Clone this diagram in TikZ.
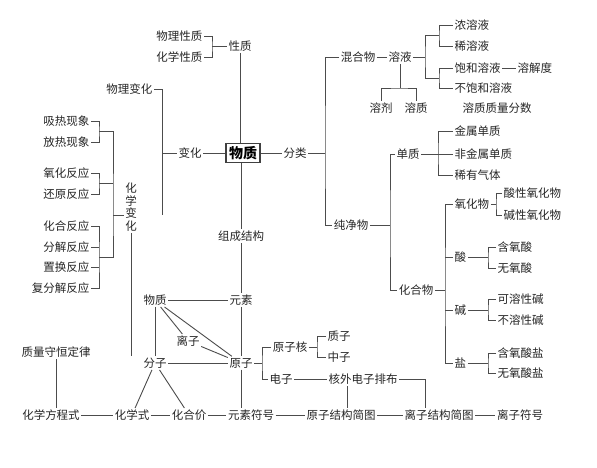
\documentclass[tikz,border=0pt]{standalone}
\usepackage{fontspec}
\setmainfont{Noto Sans CJK SC}
\usetikzlibrary{positioning, calc}
\tikzstyle{term} = [inner sep=1.5pt, font=\fontsize{11.5}{12.6}\selectfont, text=black!85]
\tikzstyle{root} = [draw=black!75, line width=1.2pt, inner sep=3pt, font=\fontsize{14}{16}\selectfont\bfseries]
\tikzstyle{line} = [draw=black!70, line width=0.9pt]

\begin{document}
\begin{tikzpicture}[x=1pt, y=-1pt]
    \useasboundingbox[fill=white] (0,0) rectangle (597,467);

    % centre and properties
    \node (matter) [root] at (243,153) {物质};
    \node (physprop) [term, anchor=east] at (204,36) {物理性质};
    \node (chemprop) [term, anchor=east] at (204,57) {化学性质};
    \node (prop) [term] at (240,46) {性质};
    \node (change) [term] at (190,153) {变化};
    \node (classify) [term] at (295,153) {分类};
    \node (struct) [term] at (241,236) {组成结构};

    \coordinate (jprop) at (212,46);
    \draw [line] (physprop.east) -| (jprop) |- (chemprop.east);
    \draw [line] (jprop) -- (prop.west);
    \draw [line] (prop.south) -- (prop.south |- matter.north);
    \draw [line] (struct.north |- matter.south) -- (struct.north);
    \draw [line] (change.east) -- (matter.west);
    \draw [line] (matter.east) -- (classify.west);

    % changes
    \node (physchange) [term, anchor=east] at (154,89) {物理变化};
    \node (chemchange) [term, align=center] at (131,207) {化\\学\\变\\化};
    \node (absorb) [term, anchor=east] at (91,121) {吸热现象};
    \node (release) [term, anchor=east] at (91,142) {放热现象};
    \node (oxid) [term, anchor=east] at (91,173) {氧化反应};
    \node (reduc) [term, anchor=east] at (91,194) {还原反应};
    \node (combine) [term, anchor=east] at (91,226) {化合反应};
    \node (decomp) [term, anchor=east] at (91,247) {分解反应};
    \node (replace) [term, anchor=east] at (91,267) {置换反应};
    \node (dbldecomp) [term, anchor=east] at (91,288) {复分解反应};

    \coordinate (jchange) at (162,215);
    \draw [line] (physchange.east) -| (jchange);
    \draw [line] (change.west) -- (change.west -| jchange);

    \coordinate (jheat) at (99,131);
    \coordinate (jredox) at (99,183);
    \coordinate (jreact) at (99,257);
    \coordinate (jchem) at (113,215);
    \draw [line] (absorb.east) -| (jheat) |- (release.east);
    \draw [line] (oxid.east) -| (jredox) |- (reduc.east);
    \draw [line] (combine.east) -| (jreact) |- (dbldecomp.east);
    \draw [line] (decomp.east) -- (decomp.east -| jreact);
    \draw [line] (replace.east) -- (replace.east -| jreact);
    \draw [line] (jheat) -| (jchem) |- (jreact);
    \draw [line] (jredox) -- (jredox -| jchem);
    \draw [line] (jchem) -- (jchem -| chemchange.west);

    % classification: mixtures
    \node (mixture) [term] at (358,57) {混合物};
    \node (solution) [term] at (400,57) {溶液};
    \node (conc) [term, anchor=west] at (453,25) {浓溶液};
    \node (dilute) [term, anchor=west] at (453,46) {稀溶液};
    \node (sat) [term, anchor=west] at (453,68) {饱和溶液};
    \node (unsat) [term, anchor=west] at (453,88) {不饱和溶液};
    \node (solubility) [term, anchor=west] at (516,68) {溶解度};
    \node (solvent) [term] at (381,108) {溶剂};
    \node (solute) [term] at (416,108) {溶质};
    \node (massfrac) [term] at (497,108) {溶质质量分数};

    \coordinate (jclass) at (325,153);
    \draw [line] (classify.east) -- (jclass);
    \draw [line] (mixture.east) -- (solution.west);
    \coordinate (jsol) at (425,57);
    \coordinate (jsolA) at (439,35);
    \coordinate (jsolB) at (439,78);
    \draw [line] (solution.east) -- (jsol);
    \draw [line] (jsolA) -| (jsol) |- (jsolB);
    \draw [line] (conc.west) -| (jsolA) |- (dilute.west);
    \draw [line] (sat.west) -| (jsolB) |- (unsat.west);
    \draw [line] (sat.east) -- (solubility.west);
    \coordinate (jsolv) at (400,88);
    \draw [line] (solution.south) -- (solution.south |- jsolv);
    \draw [line] (solvent.north) |- (jsolv) -| (solute.north);

    % classification: pure substances
    \node (pure) [term] at (351,225) {纯净物};
    \node (simple) [term] at (408,154) {单质};
    \node (metal) [term, anchor=west] at (453,131) {金属单质};
    \node (nonmetal) [term, anchor=west] at (453,154) {非金属单质};
    \node (noble) [term, anchor=west] at (453,175) {稀有气体};
    \node (compound) [term] at (416,290) {化合物};
    \node (oxide) [term, anchor=west] at (453,204) {氧化物};
    \node (acidox) [term, anchor=west] at (502,193) {酸性氧化物};
    \node (baseox) [term, anchor=west] at (502,215) {碱性氧化物};
    \node (acid) [term, anchor=west] at (453,257) {酸};
    \node (oxyacid) [term, anchor=west] at (496,247) {含氧酸};
    \node (nooxacid) [term, anchor=west] at (496,268) {无氧酸};
    \node (base) [term, anchor=west] at (453,310) {碱};
    \node (solbase) [term, anchor=west] at (496,299) {可溶性碱};
    \node (insolbase) [term, anchor=west] at (496,320) {不溶性碱};
    \node (salt) [term, anchor=west] at (453,363) {盐};
    \node (oxysalt) [term, anchor=west] at (496,353) {含氧酸盐};
    \node (nooxsalt) [term, anchor=west] at (496,373) {无氧酸盐};

    \draw [line] (mixture.west) -| (jclass) |- (pure.west);
    \coordinate (jpure) at (390,225);
    \draw [line] (pure.east) -- (jpure);
    \draw [line] (simple.west) -| (jpure) |- (compound.west);
    \coordinate (jsimple) at (438,154);
    \draw [line] (simple.east) -- (jsimple);
    \draw [line] (metal.west) -| (jsimple) |- (noble.west);
    \draw [line] (nonmetal.west) -- (jsimple);
    \coordinate (jcomp) at (445,290);
    \draw [line] (compound.east) -- (jcomp);
    \draw [line] (oxide.west) -| (jcomp) |- (salt.west);
    \draw [line] (acid.west) -- (acid.west -| jcomp);
    \draw [line] (base.west) -- (base.west -| jcomp);
    \coordinate (joxide) at (496,204);
    \draw [line] (oxide.east) -- (joxide);
    \draw [line] (acidox.west) -| (joxide) |- (baseox.west);
    \coordinate (jacid) at (488,257);
    \draw [line] (acid.east) -- (jacid);
    \draw [line] (oxyacid.west) -| (jacid) |- (nooxacid.west);
    \coordinate (jbase) at (488,310);
    \draw [line] (base.east) -- (jbase);
    \draw [line] (solbase.west) -| (jbase) |- (insolbase.west);
    \coordinate (jsalt) at (488,363);
    \draw [line] (salt.east) -- (jsalt);
    \draw [line] (oxysalt.west) -| (jsalt) |- (nooxsalt.west);

    % composition and structure
    \node (element) [term] at (241,300) {元素};
    \node (matter2) [term] at (155,300) {物质};
    \node (ion) [term] at (188,341) {离子};
    \node (molecule) [term] at (155,363) {分子};
    \node (atom) [term] at (241,363) {原子};
    \node (nucleus) [term] at (290,347) {原子核};
    \node (proton) [term, anchor=west] at (326,336) {质子};
    \node (neutron) [term, anchor=west] at (326,357) {中子};
    \node (electron) [term] at (281,379) {电子};
    \node (config) [term] at (363,379) {核外电子排布};
    \node (conserv) [term] at (56,352) {质量守恒定律};
    \node (equation) [term] at (51,415) {化学方程式};
    \node (formula) [term] at (132,415) {化学式};
    \node (valence) [term] at (189,415) {化合价};
    \node (symbol) [term] at (251,415) {元素符号};
    \node (atomdiag) [term] at (341,415) {原子结构简图};
    \node (iondiag) [term] at (439,415) {离子结构简图};
    \node (ionsym) [term] at (520,415) {离子符号};

    \draw [line] (chemchange.south) -- (chemchange.south |- molecule.north);
    \draw [line] (struct.south) -- (element.north);
    \draw [line] (element.south) -- (atom.north);
    \draw [line] (matter2.east) -- (element.west);
    \draw [line] (molecule.east) -- (atom.west);
    \draw [line] (matter2.south) -- (molecule.north);
    \draw [line] (matter2) -- (ion);
    \draw [line] (matter2) -- (atom);
    \draw [line] (ion) -- (atom);
    \draw [line] (molecule) -- (formula);
    \draw [line] (molecule) -- (valence);
    \draw [line] (atom.south) -- (atom.south |- symbol.north);

    \coordinate (jatom) at (262,363);
    \draw [line] (atom.east) -- (jatom);
    \draw [line] (nucleus.west) -| (jatom) |- (electron.west);
    \coordinate (jnuc) at (317,347);
    \draw [line] (nucleus.east) -- (jnuc);
    \draw [line] (proton.west) -| (jnuc) |- (neutron.west);
    \draw [line] (electron.east) -- (config.west);
    \draw [line] ([xshift=-16pt]config.south) -- ([xshift=-16pt]config.south |- atomdiag.north);
    \draw [line] (config.east) -| ([xshift=-14pt]iondiag.north);

    \draw [line] (conserv.south) -- (conserv.south |- equation.north);
    \draw [line] (equation.east) -- (formula.west);
    \draw [line] (formula.east) -- (valence.west);
    \draw [line] (valence.east) -- (symbol.west);
    \draw [line] (symbol.east) -- (atomdiag.west);
    \draw [line] (atomdiag.east) -- (iondiag.west);
    \draw [line] (iondiag.east) -- (ionsym.west);
\end{tikzpicture}
\end{document}
